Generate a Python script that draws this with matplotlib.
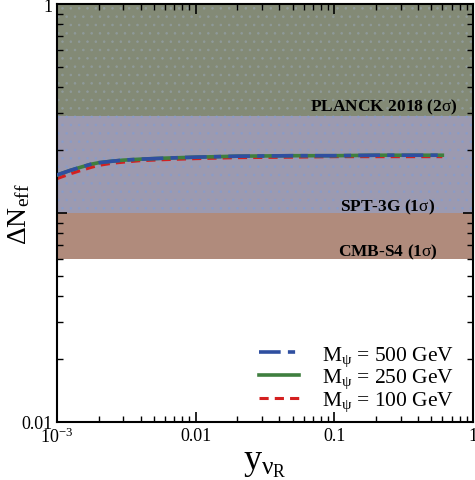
import matplotlib
matplotlib.use("Agg")
import matplotlib.pyplot as plt
import numpy as np

plt.rcParams['font.family'] = ['Liberation Serif', 'DejaVu Serif']
plt.rcParams['mathtext.fontset'] = 'custom'
plt.rcParams['mathtext.rm'] = 'Liberation Serif'
plt.rcParams['mathtext.it'] = 'Liberation Serif'
plt.rcParams['mathtext.bf'] = 'Liberation Serif:bold'
plt.rcParams['hatch.linewidth'] = 0.6

# data
y_nu = [1e-3, 1.25e-3, 1.5e-3, 1.75e-3, 2e-3, 2.5e-3, 3e-3, 4e-3, 6e-3, 1e-2, 2e-2, 5e-2, 0.1, 0.2, 0.6]
dN_500 = [0.152, 0.160, 0.166, 0.171, 0.174, 0.177, 0.179, 0.181, 0.183, 0.185, 0.187, 0.188, 0.188, 0.189, 0.189]
dN_250 = [0.152, 0.160, 0.166, 0.171, 0.174, 0.177, 0.179, 0.181, 0.183, 0.185, 0.187, 0.188, 0.188, 0.189, 0.189]
dN_100 = [0.146, 0.154, 0.160, 0.165, 0.169, 0.173, 0.175, 0.178, 0.180, 0.182, 0.184, 0.185, 0.186, 0.186, 0.186]

planck_bound = 0.29
spt_bound = 0.1
cmbs4_bound = 0.06

fig = plt.figure(figsize=(4.75, 4.81), dpi=100)
ax = fig.add_axes([0.12, 0.1206, 0.876, 0.869])

ax.set_xscale('log')
ax.set_yscale('log')
ax.set_xlim(1e-3, 1)
ax.set_ylim(0.01, 1)

ax.axhspan(cmbs4_bound, spt_bound, facecolor='#b08b7c', lw=0)
ax.axhspan(spt_bound, planck_bound, facecolor='#9c9ab0', edgecolor='#8a9cc8', hatch='..', lw=0)
ax.axhspan(planck_bound, 1, facecolor='#838a76', edgecolor='#8f9a9a', hatch='..', lw=0)

ax.plot(y_nu, dN_500, color='#2f4fa0', lw=2.6, ls=(0, (6, 2, 2, 2)), label=r'M$_\psi$ = 500 GeV', zorder=4)
ax.plot(y_nu, dN_250, color='#3f7f3f', lw=2.6, ls='-', label=r'M$_\psi$ = 250 GeV', zorder=3)
ax.plot(y_nu, dN_100, color='#d42020', lw=2.2, ls=(0, (3, 2)), label=r'M$_\psi$ = 100 GeV', zorder=2)

ax.text(0.963, 0.754, r'PLANCK 2018 (2$\sigma$)', transform=ax.transAxes, ha='right', va='center',
        fontsize=12.5, fontweight='bold')
ax.text(0.795, 0.517, r'SPT-3G (1$\sigma$)', transform=ax.transAxes, ha='center', va='center',
        fontsize=12.5, fontweight='bold')
ax.text(0.795, 0.409, r'CMB-S4 (1$\sigma$)', transform=ax.transAxes, ha='center', va='center',
        fontsize=12.5, fontweight='bold')

ax.set_xticks([1e-3, 1e-2, 1e-1, 1])
ax.set_xticklabels([r'$10^{-3}$', '0.01', '0.1', '1'])
ax.set_yticks([0.01, 0.1, 1])
ax.set_yticklabels(['0.01', '', '1'])
ax.tick_params(which='both', direction='in', top=True, right=True, labelsize=13)
ax.tick_params(which='major', length=7, width=1.2)
ax.tick_params(which='minor', length=4, width=1)
for s in ax.spines.values():
    s.set_linewidth(1.5)

ax.set_xlabel(r'y$_{\nu_\mathrm{R}}$', fontsize=26, labelpad=0)
ax.set_ylabel(r'$\Delta$N$_{\rm eff}$', fontsize=20, labelpad=-8)

leg = ax.legend(loc='lower right', bbox_to_anchor=(1.0, -0.025), frameon=False, fontsize=15.5,
                handlelength=1.85, handletextpad=1.05, labelspacing=-0.04)

fig.savefig('out.png', dpi=100)
